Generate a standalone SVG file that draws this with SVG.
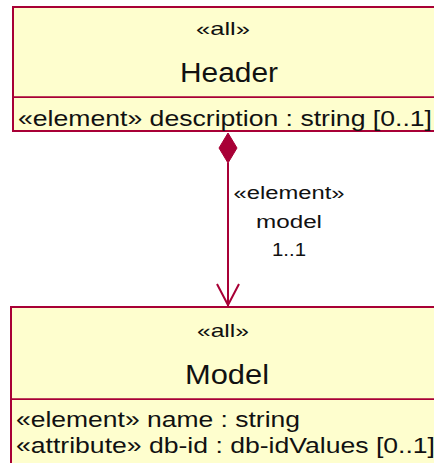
<svg xmlns="http://www.w3.org/2000/svg" width="434" height="463" viewBox="0 0 434 463">
<defs>
<style>
.box{fill:#FEFECE;stroke:#A80036;stroke-width:2}
.sep{stroke:#A80036;stroke-width:1.75}
.t{font-family:"Liberation Sans",Arial,sans-serif;fill:#111}
.edge{stroke:#A80036;stroke-width:2;fill:none}
</style>
</defs>
<rect width="434" height="463" fill="#FFFFFF"/>
<g id="Header">
<rect class="box" x="13" y="7" width="440" height="124"/>
<line class="sep" x1="13" y1="97" x2="453" y2="97"/>
<text class="t" x="223" y="35" font-size="19" text-anchor="middle" textLength="54" lengthAdjust="spacingAndGlyphs">«all»</text>
<text class="t" x="229" y="82" font-size="27" text-anchor="middle" textLength="98" lengthAdjust="spacingAndGlyphs">Header</text>
<text class="t" x="18" y="126" font-size="22" textLength="414" lengthAdjust="spacingAndGlyphs">«element» description : string [0..1]</text>
</g>
<g id="Model">
<rect class="box" x="11" y="307" width="440" height="170"/>
<line class="sep" x1="11" y1="399" x2="451" y2="399"/>
<text class="t" x="223" y="337" font-size="19" text-anchor="middle" textLength="52" lengthAdjust="spacingAndGlyphs">«all»</text>
<text class="t" x="227" y="384" font-size="27" text-anchor="middle" textLength="84" lengthAdjust="spacingAndGlyphs">Model</text>
<text class="t" x="16" y="427" font-size="22" textLength="284" lengthAdjust="spacingAndGlyphs">«element» name : string</text>
<text class="t" x="16" y="453" font-size="22" textLength="419" lengthAdjust="spacingAndGlyphs">«attribute» db-id : db-idValues [0..1]</text>
</g>
<g id="connectors">
<line class="edge" x1="228" y1="163" x2="228" y2="306"/>
<polygon points="228,133 237,148 228,163 219,148" fill="#A80036" stroke="#A80036" stroke-width="1"/>
<polyline class="edge" points="217,284 228,305 239,284"/>
<text class="t" x="289" y="199" font-size="18" text-anchor="middle" textLength="111" lengthAdjust="spacingAndGlyphs">«element»</text>
<text class="t" x="289" y="228" font-size="18" text-anchor="middle" textLength="66" lengthAdjust="spacingAndGlyphs">model</text>
<text class="t" x="289" y="256" font-size="18" text-anchor="middle" textLength="34" lengthAdjust="spacingAndGlyphs">1..1</text>
</g>
</svg>
